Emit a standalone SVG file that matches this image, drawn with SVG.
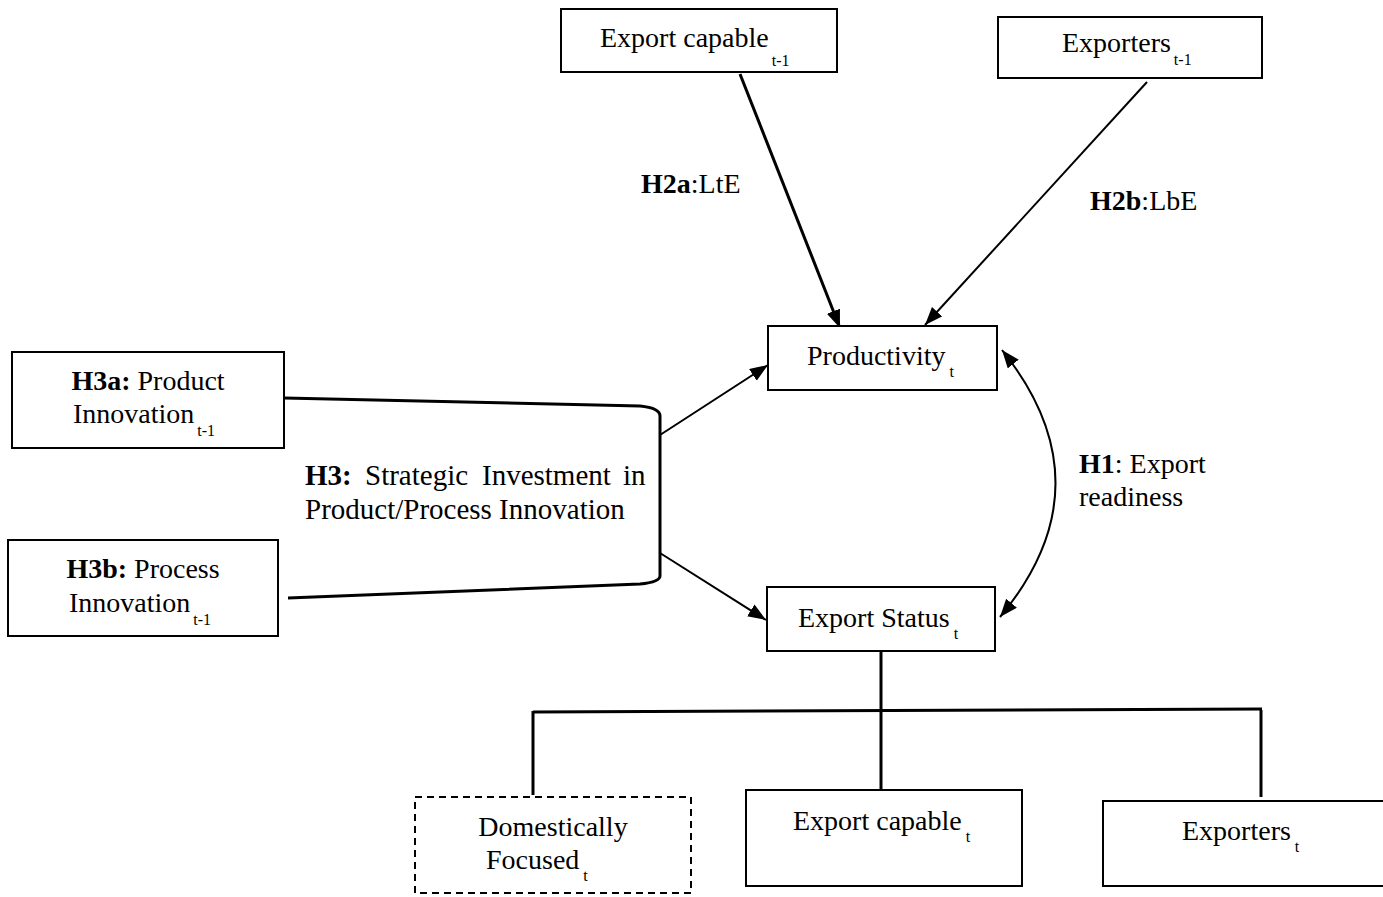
<svg xmlns="http://www.w3.org/2000/svg" width="1383" height="897" viewBox="0 0 1383 897">
<style>
.box{fill:#fff;stroke:#000;stroke-width:2}
.dash{fill:#fff;stroke:#000;stroke-width:2;stroke-dasharray:7,5}
.t{font-family:"Liberation Serif","Times New Roman",serif;font-size:28px;fill:#000}
.h3{font-size:29px}
.s{font-size:16px}
.b{font-weight:bold}
.ln{fill:none;stroke:#000;stroke-width:2}
.thick{fill:none;stroke:#000;stroke-width:3}
</style>
<defs>
<marker id="ah" markerUnits="userSpaceOnUse" markerWidth="20" markerHeight="16" refX="18" refY="7" orient="auto-start-reverse">
<path d="M0,0 L18,7 L0,14 Z" fill="#000"/>
</marker>
</defs>
<g id="connectors">
<line class="thick" x1="740" y1="74" x2="840" y2="328" marker-end="url(#ah)"/>
<line class="ln" x1="1147" y1="82" x2="925" y2="325" marker-end="url(#ah)"/>
<path class="thick" d="M284,398 L640,406 Q660,408 660,416 L660,576 Q660,582 640,584 L288,598"/>
<line class="ln" x1="660" y1="435" x2="768" y2="365" marker-end="url(#ah)"/>
<line class="ln" x1="660" y1="553" x2="766" y2="620" marker-end="url(#ah)"/>
<path class="ln" d="M1002,350 Q1110,485 1000,617" marker-start="url(#ah)" marker-end="url(#ah)"/>
<line class="thick" x1="881" y1="651" x2="881" y2="792"/>
<line class="thick" x1="533" y1="712" x2="1262" y2="709"/>
<line class="thick" x1="533" y1="711" x2="533" y2="795"/>
<line class="thick" x1="1261" y1="710" x2="1261" y2="797"/>
</g>
<g id="labels">
<text class="t" x="641" y="193"><tspan class="b">H2a</tspan>:LtE</text>
<text class="t" x="1090" y="210"><tspan class="b">H2b</tspan>:LbE</text>
<text class="t" x="1079" y="473"><tspan class="b">H1</tspan>: Export</text>
<text class="t" x="1079" y="506">readiness</text>
<text class="t h3" x="305" y="485"><tspan class="b">H3:</tspan></text>
<text class="t h3" x="365" y="485">Strategic</text>
<text class="t h3" x="482" y="485">Investment</text>
<text class="t h3" x="623" y="485">in</text>
<text class="t h3" x="305" y="519">Product/Process Innovation</text>
</g>
<g id="export-capable-t1">
<rect class="box" x="561" y="9" width="276" height="63"/>
<text class="t" x="600" y="47">Export capable<tspan class="s" dx="3" dy="19">t-1</tspan></text>
</g>
<g id="exporters-t1">
<rect class="box" x="998" y="17" width="264" height="61"/>
<text class="t" x="1062" y="52">Exporters<tspan class="s" dx="3" dy="13">t-1</tspan></text>
</g>
<g id="productivity">
<rect class="box" x="768" y="326" width="229" height="64"/>
<text class="t" x="807" y="365">Productivity<tspan class="s" dx="4" dy="12">t</tspan></text>
</g>
<g id="export-status">
<rect class="box" x="767" y="587" width="228" height="64"/>
<text class="t" x="798" y="627">Export Status<tspan class="s" dx="4" dy="12">t</tspan></text>
</g>
<g id="h3a">
<rect class="box" x="12" y="352" width="272" height="96"/>
<text class="t" x="148" y="390" text-anchor="middle"><tspan class="b">H3a:</tspan> Product</text>
<text class="t" x="73" y="423">Innovation<tspan class="s" dx="3" dy="13">t-1</tspan></text>
</g>
<g id="h3b">
<rect class="box" x="8" y="540" width="270" height="96"/>
<text class="t" x="143" y="578" text-anchor="middle"><tspan class="b">H3b:</tspan> Process</text>
<text class="t" x="69" y="612">Innovation<tspan class="s" dx="3" dy="13">t-1</tspan></text>
</g>
<g id="domestically-focused">
<rect class="dash" x="415" y="797" width="276" height="96"/>
<text class="t" x="553" y="836" text-anchor="middle">Domestically</text>
<text class="t" x="486" y="869">Focused<tspan class="s" dx="4" dy="12">t</tspan></text>
</g>
<g id="export-capable-t">
<rect class="box" x="746" y="790" width="276" height="96"/>
<text class="t" x="793" y="830">Export capable<tspan class="s" dx="4" dy="12">t</tspan></text>
</g>
<g id="exporters-t">
<rect class="box" x="1103" y="801" width="282" height="85"/>
<text class="t" x="1182" y="840">Exporters<tspan class="s" dx="4" dy="12">t</tspan></text>
</g>
</svg>
